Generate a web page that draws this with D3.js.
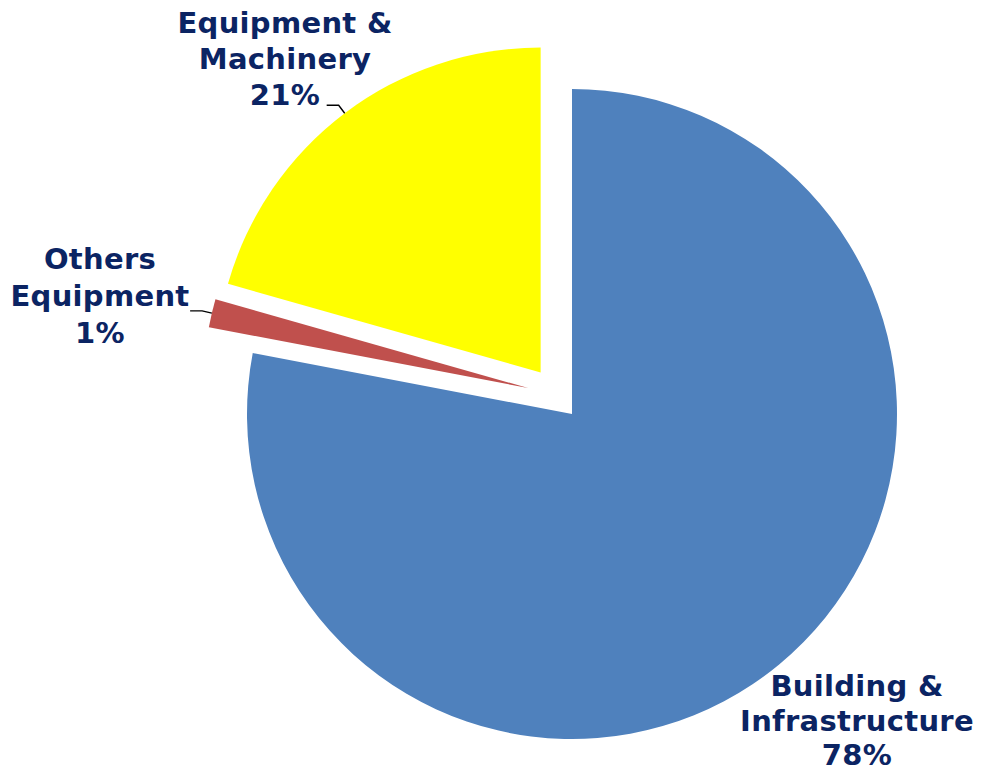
<!DOCTYPE html>
<html>
<head>
<meta charset="utf-8">
<script src="https://cdn.jsdelivr.net/npm/d3@7"></script>
<style>
  html, body { margin: 0; padding: 0; background: #ffffff; }
  svg { display: block; }
</style>
</head>
<body>
<svg id="chart" width="982" height="770"></svg>
<script>
// Investment split by asset category
const categories = ["Building & Infrastructure", "Others Equipment", "Equipment & Machinery"];
const labelLines = [["Building &", "Infrastructure"], ["Others", "Equipment"], ["Equipment &", "Machinery"]];
const shares = [78.0, 1.4, 20.6];

const colors = ["#4f81bd", "#c0504d", "#ffff00"];
const textColor = "#0b2463";

const svg = d3.select("#chart");
const cx = 572, cy = 414, radius = 325;

const pie = d3.pie().sort(null).value(d => d).startAngle(0).endAngle(2 * Math.PI);
const arcs = pie(shares);
const arc = d3.arc().innerRadius(0).outerRadius(radius);

// explosion of each slice away from the centre: distance (px) and direction (deg, clockwise from 12 o'clock; null = slice bisector)
const explode = [
  { dist: 0, angle: null },
  { dist: 51, angle: 300.6 },
  { dist: 52, angle: null }
];

function offsetOf(i) {
  const a = arcs[i];
  const ang = explode[i].angle == null ? (a.startAngle + a.endAngle) / 2 : explode[i].angle * Math.PI / 180;
  return [Math.sin(ang) * explode[i].dist, -Math.cos(ang) * explode[i].dist];
}

const g = svg.append("g").attr("transform", `translate(${cx},${cy})`);

g.selectAll("path.slice")
  .data(arcs)
  .join("path")
  .attr("class", "slice")
  .attr("d", arc)
  .attr("fill", (d, i) => colors[i])
  .attr("transform", (d, i) => { const o = offsetOf(i); return `translate(${o[0]},${o[1]})`; });

// label layout: anchor x and first baseline, line step
const labelLayout = [
  { x: 857, y: 696, step: 34.5, leader: false },
  { x: 100, y: 269, step: 37, leader: true },
  { x: 285, y: 33, step: 36, leader: true }
];

const fmt = d3.format(".0f");

arcs.forEach((a, i) => {
  const L = labelLayout[i];
  const lines = labelLines[i].concat([fmt(shares[i]) + "%"]);
  const t = svg.append("text")
    .attr("text-anchor", "middle")
    .attr("font-family", "'DejaVu Sans', Verdana, sans-serif")
    .attr("font-weight", "bold")
    .attr("font-size", 29)
    .attr("letter-spacing", 0.3)
    .attr("fill", textColor);
  lines.forEach((s, k) => {
    t.append("tspan").attr("x", L.x).attr("y", L.y + k * L.step).text(s);
  });

  if (L.leader) {
    const o = offsetOf(i);
    const mid = (a.startAngle + a.endAngle) / 2;
    const ex = cx + o[0] + Math.sin(mid) * radius;
    const ey = cy + o[1] - Math.cos(mid) * radius;
    const kx = ex + Math.sin(mid) * 10;
    const ky = ey - Math.cos(mid) * 10;
    const hx = kx - 12;
    svg.append("polyline")
      .attr("points", `${ex},${ey} ${kx},${ky} ${hx},${ky}`)
      .attr("fill", "none")
      .attr("stroke", "#000")
      .attr("stroke-width", 1.4);
  }
});
</script>
</body>
</html>
